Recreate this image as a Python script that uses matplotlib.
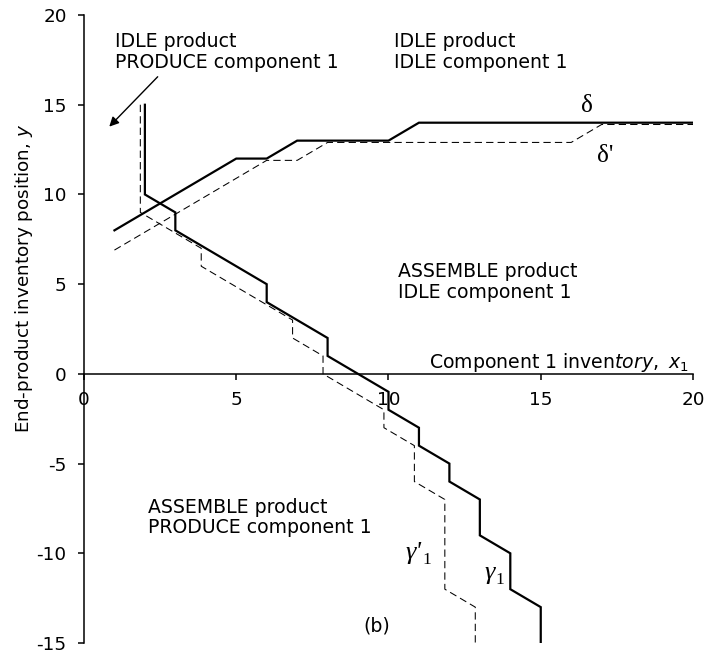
import matplotlib
matplotlib.use("Agg")
import matplotlib.pyplot as plt

# Switching curves: gamma_1 / gamma'_1 (component 1) and delta / delta' (end product)
gamma1_x = [2, 2, 3, 3, 6, 6, 8, 8, 10, 10, 11, 11, 12, 12, 13, 13, 14, 14, 15, 15]
gamma1_y = [15, 10, 9, 8, 5, 4, 2, 1, -1, -2, -3, -4, -5, -6, -7, -9, -10, -12, -13, -15]

gamma1p_x = [1.85, 1.85, 3.85, 3.85, 6.85, 6.85, 7.85, 7.85, 9.85, 9.85,
             10.85, 10.85, 11.85, 11.85, 12.85, 12.85]
gamma1p_y = [15, 9, 7, 6, 3, 2, 1, 0, -2, -3, -4, -6, -7, -12, -13, -15]

delta_x = [1, 5, 6, 7, 10, 11, 20]
delta_y = [8, 12, 12, 13, 13, 14, 14]

deltap_x = [1, 6, 7, 8, 16, 17, 20]
deltap_y = [6.9, 11.9, 11.9, 12.9, 12.9, 13.9, 13.9]

x_ticks = [0, 5, 10, 15, 20]
y_ticks = [-15, -10, -5, 0, 5, 10, 15, 20]

plt.rcParams["font.family"] = ["DejaVu Sans"]
plt.rcParams["mathtext.fontset"] = "dejavusans"

fig = plt.figure(figsize=(7.07, 6.54), dpi=100)
ax = fig.add_axes([0.1188, 0.0168, 0.8614, 0.9602])

ax.plot(gamma1_x, gamma1_y, color="black", lw=1.6, solid_joinstyle="miter")
ax.plot(gamma1p_x, gamma1p_y, color="black", lw=0.75, ls=(0, (7, 4)))
ax.plot(delta_x, delta_y, color="black", lw=1.6, solid_joinstyle="miter")
ax.plot(deltap_x, deltap_y, color="black", lw=0.75, ls=(0, (7, 4)))

ax.set_xlim(0, 20)
ax.set_ylim(-15, 20)
ax.set_xticks(x_ticks)
ax.set_yticks(y_ticks)
ax.set_xticklabels([str(v) for v in x_ticks])
ax.set_yticklabels([str(v) for v in y_ticks])

for s in ("top", "right"):
    ax.spines[s].set_visible(False)
ax.spines["bottom"].set_position(("data", 0))
ax.spines["left"].set_linewidth(1.1)
ax.spines["bottom"].set_linewidth(1.1)
ax.tick_params(axis="both", direction="out", length=4.5, width=1.1,
               labelsize=13.2, colors="black")
ax.tick_params(axis="y", pad=8)
ax.tick_params(axis="x", pad=8)

ax.set_ylabel(r"End-product inventory position, $\mathit{y}$", fontsize=13.2)
ax.yaxis.set_label_coords(-0.080, 0.58)

txt = dict(fontsize=13.6, color="black", linespacing=1.12)
ax.text(1.02, 17.96, "IDLE product\nPRODUCE component 1", ha="left", va="center", **txt)
ax.text(10.18, 17.96, "IDLE product\nIDLE component 1", ha="left", va="center", **txt)
ax.text(10.3, 5.1, "ASSEMBLE product\nIDLE component 1", ha="left", va="center", **txt)
ax.text(2.1, -8.0, "ASSEMBLE product\nPRODUCE component 1", ha="left", va="center", **txt)
ax.text(19.85, 0.33, r"Component 1 inven$\mathit{tory,}$ $\mathit{x}_1$",
        ha="right", va="baseline", fontsize=13.6)
ax.text(9.63, -14.05, "(b)", ha="center", va="center", fontsize=13.6)

serif = dict(family=["Liberation Serif", "DejaVu Serif"], color="black")
ax.text(16.51, 14.95, "δ", ha="center", va="center", fontsize=18, **serif)
ax.text(17.1, 12.16, "δ'", ha="center", va="center", fontsize=18, **serif)

# curve names: italic gamma with a small lowered index
for name, (gx, gy) in (("γ'", (11.09, -9.98)), ("γ", (13.48, -11.1))):
    ax.text(gx, gy, name, ha="right", va="center", fontsize=19,
            style="italic", **serif)
    ax.annotate("1", xy=(gx, gy), xytext=(0.5, -5), textcoords="offset points",
                ha="left", va="center", fontsize=12.5, **serif)

ax.annotate("", xy=(0.83, 13.78), xytext=(2.42, 16.56),
            arrowprops=dict(arrowstyle="-|>", color="black", lw=1.0,
                            mutation_scale=14, shrinkA=0, shrinkB=0))

fig.savefig("out.png", dpi=100)
